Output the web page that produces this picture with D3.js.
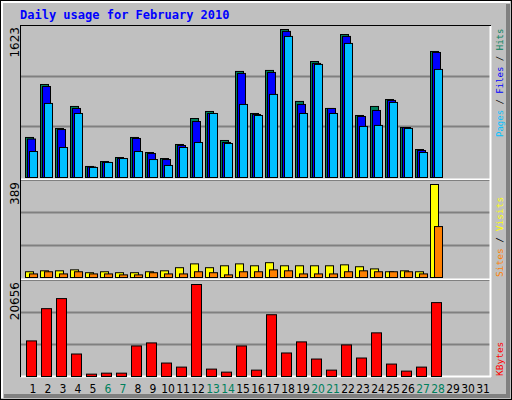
<!DOCTYPE html><html><head><meta charset="utf-8">
<script src="https://cdn.jsdelivr.net/npm/d3@7"></script>
<style>body{margin:0;background:#fff}svg{display:block}</style></head><body>
<script>
const days=d3.range(1,32);
const weekend=[6,7,13,14,20,21,27,28];
const hits=[439,1020,537,779,121,175,219,439,274,208,362,647,724,406,1163,702,1174,1623,834,1272,757,1568,680,779,855,548,307,1382];
const files=[422,998,526,757,115,165,208,428,263,197,351,614,702,384,1141,691,1152,1602,801,1251,757,1547,669,735,845,548,296,1371];
const pages=[285,812,329,702,110,165,208,285,197,132,329,384,702,373,801,680,911,1547,702,1240,702,1470,560,571,823,538,274,1185];
const visits=[24,28,28,32,20,24,20,20,24,28,41,57,41,49,57,49,62,49,49,49,49,53,45,36,24,28,24,389];
const sites=[15,24,15,24,15,15,11,11,20,15,15,24,20,11,24,24,32,28,15,15,15,24,28,24,24,24,15,213];
const kbytes=[7990,15230,17490,5050,530,750,750,6860,7540,3020,2110,20656,1660,980,6860,1430,13870,5280,7770,3920,1430,7090,4150,9800,2790,1210,2110,16590];
const maxLabels=["1623","389","20656"];

const svg=d3.select("body").append("svg").attr("width",512).attr("height",400);
svg.append("rect").attr("width",512).attr("height",400).attr("fill","#C0C0C0");
svg.append("rect").attr("x",0.5).attr("y",0.5).attr("width",511).attr("height",399).attr("fill","none").attr("stroke","#000");
svg.append("path").attr("d","M2,398V2H510").attr("stroke","#fff").attr("stroke-width",2).attr("fill","none");
svg.append("path").attr("d","M508,4V396H4").attr("stroke","#808080").attr("stroke-width",4).attr("fill","none");
svg.append("text").attr("x",20).attr("y",19).text("Daily usage for February 2010")
 .attr("font-family","DejaVu Sans Mono").attr("font-weight","bold").attr("font-size",12).attr("fill","#0000FF");

const x=d3.scaleLinear().domain([1,31]).range([33,483]);
const panels=[{t:25,b:180,base:177,top:29,max:1623},{t:180,b:280,base:277,top:184,max:389},{t:280,b:376,base:376,top:284,max:20656}];
panels.forEach((p,i)=>{
  svg.append("rect").attr("x",20.5).attr("y",p.t+0.5).attr("width",470).attr("height",p.b-p.t).attr("fill","#C0C0C0").attr("stroke","#000");
  [1,2].forEach(k=>{const gy=Math.round(p.base-(p.base-p.t)*k/3)+0.5;
    svg.append("line").attr("x1",21).attr("x2",490).attr("y1",gy).attr("y2",gy).attr("stroke","#808080").attr("stroke-width",2);});
  svg.append("text").attr("transform",`translate(19,${p.t+2}) rotate(-90)`).attr("text-anchor","end")
   .attr("font-family","DejaVu Sans").attr("font-size",12).attr("fill","#000").text(maxLabels[i]);
  p.y=d3.scaleLinear().domain([0,p.max]).range([p.base,p.top]);
});
svg.append("path").attr("d","M21,179.5H491M21,279.5H491M21,376.5H491M490.5,26V377").attr("stroke","#fff").attr("stroke-width",2);

function bars(data,p,off,w,color){
  svg.append("g").selectAll("rect").data(data).join("rect")
   .attr("x",(d,i)=>x(i+1)+off+0.5).attr("y",d=>p.y(d)+0.5).attr("width",w).attr("height",d=>Math.max(0,p.base-p.y(d)))
   .attr("fill",color).attr("stroke","#000");
}
bars(hits,panels[0],-8,8,"#00805C");
bars(files,panels[0],-6,8,"#0000FF");
bars(pages,panels[0],-4,8,"#00C0FF");
bars(visits,panels[1],-8,8,"#FFFF00");
bars(sites,panels[1],-4,8,"#FF8000");
bars(kbytes,panels[2],-7,10,"#FF0000");

svg.append("g").selectAll("text").data(days).join("text").attr("x",d=>x(d)).attr("y",393).attr("text-anchor","middle")
 .attr("font-family","Liberation Sans Narrow, DejaVu Sans Condensed, sans-serif").attr("font-size",12).attr("fill",d=>weekend.includes(d)?"#00805C":"#000").text(d=>d);

function rlabel(parts,yb,fs){
  const t=svg.append("text").attr("transform",`translate(503,${yb}) rotate(-90)`).attr("font-family","DejaVu Sans Mono").attr("font-size",fs);
  parts.forEach(([s,c])=>t.append("tspan").attr("fill",c).text(s));
}
rlabel([["Pages","#00C0FF"],[" / ","#000"],["Files","#0000FF"],[" / ","#000"],["Hits","#00805C"]],137,9);
rlabel([["Sites","#FF8000"],[" / ","#000"],["Visits","#FFFF00"]],277,9.5);
rlabel([["KBytes","#FF0000"]],376,9.5);
</script></body></html>
